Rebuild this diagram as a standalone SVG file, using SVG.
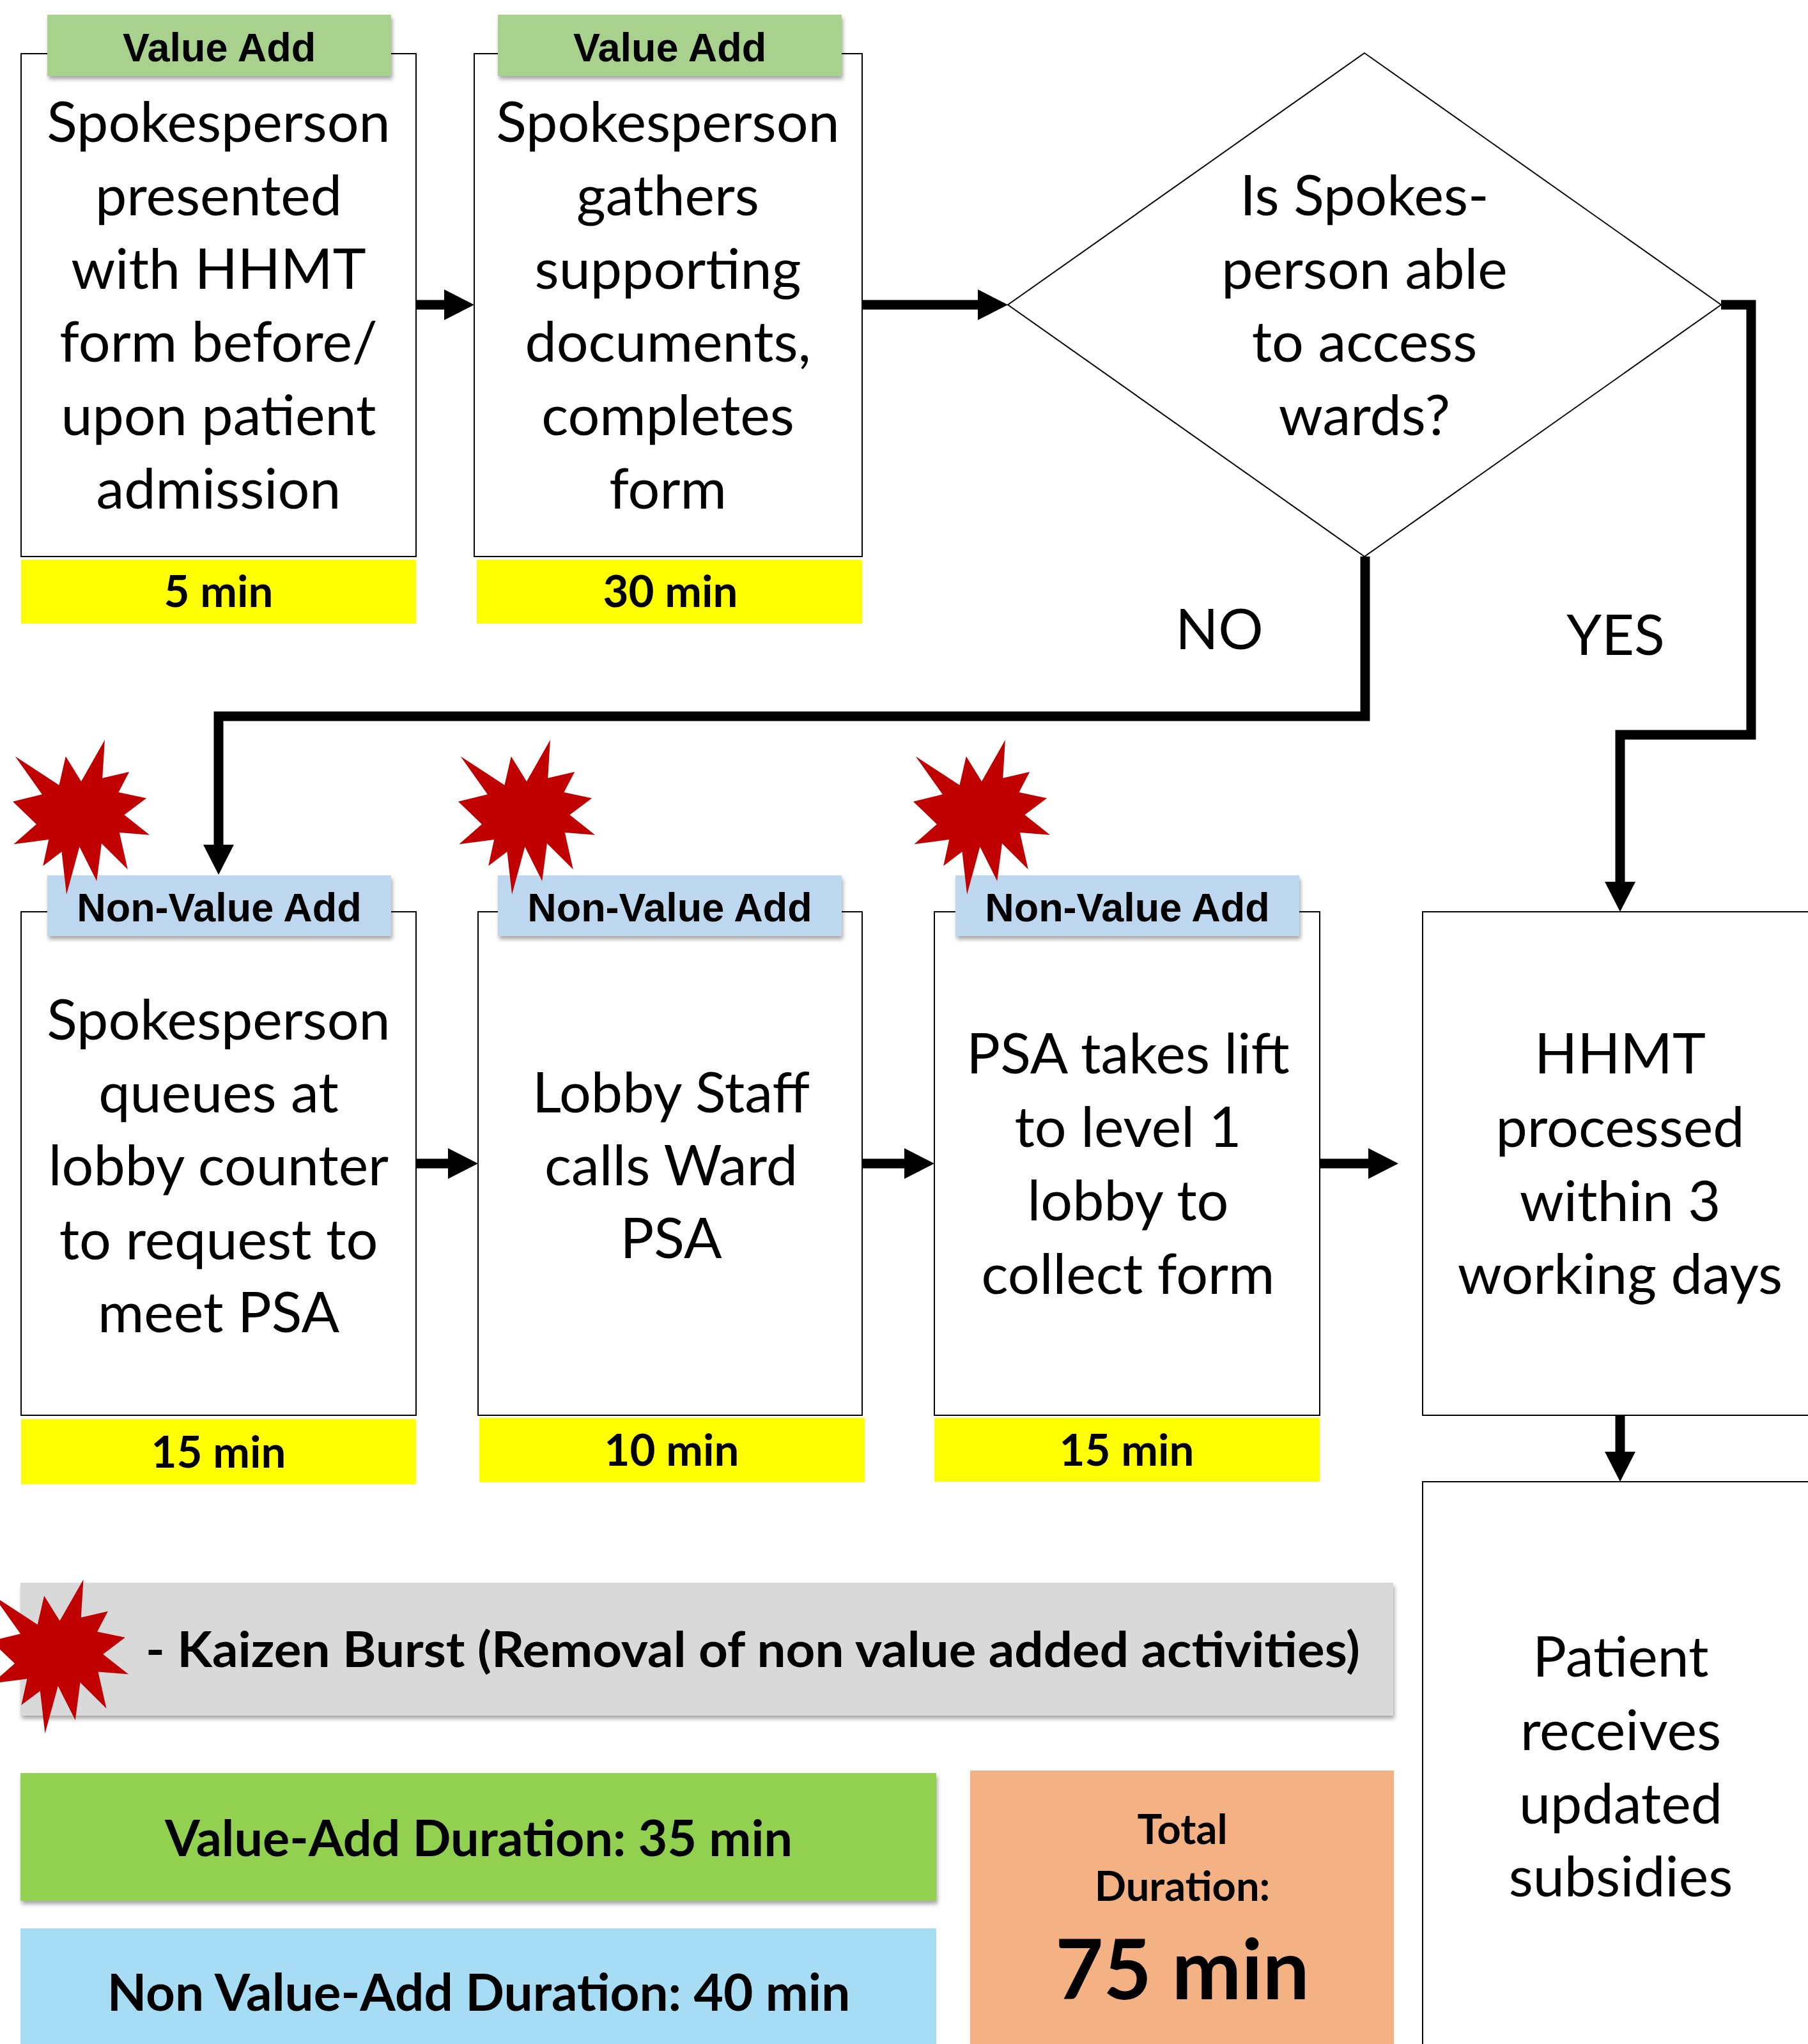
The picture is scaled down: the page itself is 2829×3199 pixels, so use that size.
<svg xmlns="http://www.w3.org/2000/svg" xmlns:xlink="http://www.w3.org/1999/xlink" width="2829" height="3199" viewBox="0 0 2829 3199">
<style>
.box{fill:#fff;stroke:#000;stroke-width:2}
.dia{fill:#fff;stroke:#000;stroke-width:2}
.body{font-family:Lato,'Liberation Sans',sans-serif;font-size:88px;text-anchor:middle;fill:#000}
.lbl{font-family:'Liberation Sans',Arial,sans-serif;font-weight:bold;font-size:63px;text-anchor:middle;fill:#000}
.time{font-family:Lato,'Liberation Sans',sans-serif;font-weight:bold;font-size:69px;text-anchor:middle;fill:#000}
.bold{font-family:Lato,'Liberation Sans',sans-serif;font-weight:bold;text-anchor:middle;fill:#000}
.va{fill:#A9D18E}
.nva{fill:#BDD7EE}
.yel{fill:#FFFF00}
.conn{fill:none;stroke:#000;stroke-width:15;stroke-linejoin:miter;marker-end:url(#ah)}
</style>
<defs>
<filter id="sh" x="-5%" y="-10%" width="110%" height="130%">
<feDropShadow dx="2" dy="5" stdDeviation="3" flood-color="#000" flood-opacity="0.35"/>
</filter>
<marker id="ah" markerUnits="userSpaceOnUse" markerWidth="50" markerHeight="50" viewBox="0 -25 50 50" refX="2" refY="0" orient="auto">
<path d="M0,-24 L47,0 L0,24 Z" fill="#000"/>
</marker>
<polygon id="burst" fill="#C00000" points="108,58 145.22,0 141.55,53.25 183.8,44.57 167.02,73.15 210.97,81.37 176.07,104.75 216,132.9 168.37,129.42 181.45,180.95 140.2,144.57 132.47,197.37 105.32,149.35 84.85,216 77.15,156.27 47.62,176.17 56.67,139.37 1.35,145.87 37.22,117.75 0,86.15 46.27,76.17 3.7,22.95 73.12,63.2 83.52,22.95"/>
</defs>
<rect width="2829" height="3199" fill="#fff"/>

<g id="node-presented">
<rect class="box" x="33" y="84" width="618" height="787"/>
<rect class="va" x="74" y="23" width="538" height="96" filter="url(#sh)"/>
<text class="lbl" x="343" y="96">Value Add</text>
<text class="body" x="342" y="222">Spokesperson</text>
<text class="body" x="342" y="337">presented</text>
<text class="body" x="342" y="452">with HHMT</text>
<text class="body" x="342" y="566">form before/</text>
<text class="body" x="342" y="681">upon patient</text>
<text class="body" x="342" y="796">admission</text>
<rect class="yel" x="33" y="876" width="618" height="100"/>
<text class="time" x="342" y="950">5 min</text>
</g>

<g id="node-gathers">
<rect class="box" x="742" y="84" width="607" height="787"/>
<rect class="va" x="779" y="23" width="538" height="96" filter="url(#sh)"/>
<text class="lbl" x="1048" y="96">Value Add</text>
<text class="body" x="1045" y="222">Spokesperson</text>
<text class="body" x="1045" y="337">gathers</text>
<text class="body" x="1045" y="452">supporting</text>
<text class="body" x="1045" y="566">documents,</text>
<text class="body" x="1045" y="681">completes</text>
<text class="body" x="1045" y="796">form</text>
<rect class="yel" x="746" y="876" width="603" height="100"/>
<text class="time" x="1049" y="950">30 min</text>
</g>

<g id="node-decision">
<polygon class="dia" points="2135,83 2693,477 2135,871 1577,477"/>
<text class="body" x="2135" y="337">Is Spokes-</text>
<text class="body" x="2135" y="452">person able</text>
<text class="body" x="2135" y="566">to access</text>
<text class="body" x="2135" y="681">wards?</text>
</g>

<g id="node-queues">
<rect class="box" x="33" y="1427" width="618" height="788"/>
<rect class="nva" x="74" y="1370" width="538" height="95" filter="url(#sh)"/>
<text class="lbl" x="343" y="1442">Non-Value Add</text>
<text class="body" x="342" y="1627">Spokesperson</text>
<text class="body" x="342" y="1741">queues at</text>
<text class="body" x="342" y="1855">lobby counter</text>
<text class="body" x="342" y="1971">to request to</text>
<text class="body" x="342" y="2085">meet PSA</text>
<rect class="yel" x="33" y="2221" width="618" height="102"/>
<text class="time" x="342" y="2297">15 min</text>
</g>

<g id="node-lobby">
<rect class="box" x="748" y="1427" width="601" height="788"/>
<rect class="nva" x="779" y="1370" width="538" height="95" filter="url(#sh)"/>
<text class="lbl" x="1048" y="1442">Non-Value Add</text>
<text class="body" x="1050" y="1741">Lobby Staff</text>
<text class="body" x="1050" y="1855">calls Ward</text>
<text class="body" x="1050" y="1969">PSA</text>
<rect class="yel" x="750" y="2219" width="603" height="101"/>
<text class="time" x="1051" y="2294">10 min</text>
</g>

<g id="node-lift">
<rect class="box" x="1462" y="1427" width="603" height="788"/>
<rect class="nva" x="1495" y="1370" width="538" height="95" filter="url(#sh)"/>
<text class="lbl" x="1764" y="1442">Non-Value Add</text>
<text class="body" x="1765" y="1680">PSA takes lift</text>
<text class="body" x="1765" y="1795">to level 1</text>
<text class="body" x="1765" y="1910">lobby to</text>
<text class="body" x="1765" y="2025">collect form</text>
<rect class="yel" x="1462" y="2219" width="603" height="100"/>
<text class="time" x="1763" y="2294">15 min</text>
</g>

<g id="node-processed">
<rect class="box" x="2226" y="1427" width="620" height="788"/>
<text class="body" x="2535" y="1680">HHMT</text>
<text class="body" x="2535" y="1795">processed</text>
<text class="body" x="2535" y="1911">within 3</text>
<text class="body" x="2535" y="2025">working days</text>
</g>

<g id="node-subsidies">
<rect class="box" x="2226" y="2319" width="620" height="900"/>
<text class="body" x="2536" y="2624">Patient</text>
<text class="body" x="2536" y="2739">receives</text>
<text class="body" x="2536" y="2854">updated</text>
<text class="body" x="2536" y="2968">subsidies</text>
</g>

<g id="connectors">
<path class="conn" d="M651,477 H697"/>
<path class="conn" d="M1349,477 H1532"/>
<path class="conn" d="M2136,871 V1121 H342 V1324"/>
<path class="conn" d="M2693,477 H2740 V1150 H2535 V1382"/>
<path class="conn" d="M651,1821 H703"/>
<path class="conn" d="M1349,1821 H1417"/>
<path class="conn" d="M2065,1821 H2143"/>
<path class="conn" d="M2535,2215 V2274"/>
<text class="body" x="1908" y="1016">NO</text>
<text class="body" x="2528" y="1025">YES</text>
</g>

<g id="bursts">
<use xlink:href="#burst" transform="translate(20,1158) scale(0.991,1.12)"/>
<use xlink:href="#burst" transform="translate(717,1158) scale(0.991,1.12)"/>
<use xlink:href="#burst" transform="translate(1429,1158) scale(0.991,1.12)"/>
</g>

<g id="legend">
<rect x="32" y="2477" width="2148" height="208" fill="#D9D9D9" filter="url(#sh)"/>
<use xlink:href="#burst" transform="translate(-14,2472) scale(0.995,1.116)"/>
<text class="bold" x="1178" y="2609" font-size="77" textLength="1900" lengthAdjust="spacingAndGlyphs">- Kaizen Burst (Removal of non value added activities)</text>
</g>

<g id="summary-value">
<rect x="32" y="2775" width="1433" height="200" fill="#92D050" filter="url(#sh)"/>
<text class="bold" x="749" y="2905" font-size="79">Value-Add Duration: 35 min</text>
</g>

<g id="summary-nonvalue">
<rect x="32" y="3018" width="1433" height="200" fill="#A6DCF4"/>
<text class="bold" x="749" y="3147" font-size="80">Non Value-Add Duration: 40 min</text>
</g>

<g id="summary-total">
<rect x="1518" y="2771" width="663" height="440" fill="#F4B183"/>
<text class="bold" x="1850" y="2886" font-size="65">Total</text>
<text class="bold" x="1850" y="2975" font-size="65">Duration:</text>
<text class="bold" x="1850" y="3129" font-size="130">75 min</text>
</g>
</svg>
